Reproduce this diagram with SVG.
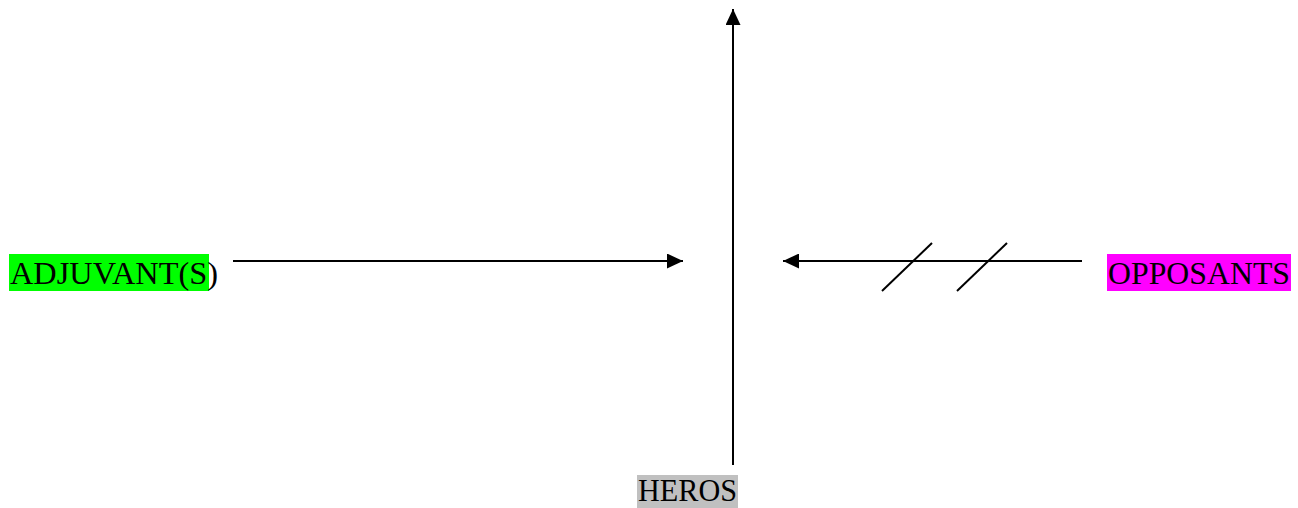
<svg xmlns="http://www.w3.org/2000/svg" width="1298" height="508" viewBox="0 0 1298 508">
<style>
.lbl{font-family:"Liberation Serif","Times New Roman",serif;font-size:31px;fill:#000}
.ln{stroke:#000;stroke-width:2;fill:none}
</style>
<defs>
<marker id="ah" viewBox="0 0 16 15" refX="16" refY="7.5" markerWidth="16" markerHeight="15" markerUnits="userSpaceOnUse" orient="auto">
<path d="M0,0 L16,7.5 L0,15 Z" fill="#000"/>
</marker>
</defs>
<rect width="1298" height="508" fill="#fff"/>
<g id="connectors">
<line class="ln" x1="733" y1="465" x2="733" y2="9" marker-end="url(#ah)"/>
<line class="ln" x1="233" y1="261" x2="683" y2="261" marker-end="url(#ah)"/>
<line class="ln" x1="1082" y1="261" x2="783" y2="261" marker-end="url(#ah)"/>
<line class="ln" x1="882" y1="291" x2="932" y2="243"/>
<line class="ln" x1="957" y1="291" x2="1007" y2="243"/>
</g>
<g id="adjuvants">
<rect x="9" y="254" width="200" height="37" fill="#00ff00"/>
<text class="lbl" x="10" y="284" textLength="208" lengthAdjust="spacingAndGlyphs">ADJUVANT(S)</text>
</g>
<g id="opposants">
<rect x="1107" y="254" width="184" height="37" fill="#ff00ff"/>
<text class="lbl" x="1108" y="284" textLength="182" lengthAdjust="spacingAndGlyphs">OPPOSANTS</text>
</g>
<g id="heros">
<rect x="637" y="475" width="101" height="33" fill="#c0c0c0"/>
<text class="lbl" x="638" y="501" textLength="99" lengthAdjust="spacingAndGlyphs">HEROS</text>
</g>
</svg>
